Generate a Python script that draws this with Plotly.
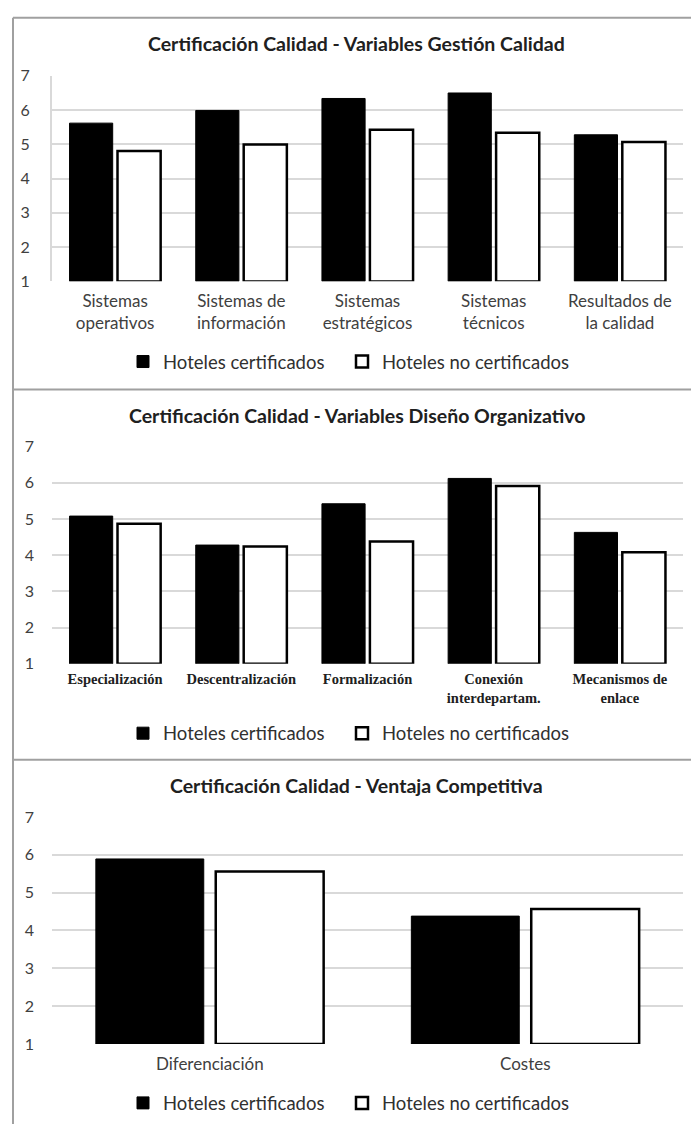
import plotly.graph_objects as go

# ---- data ----
series_names = ["Hoteles certificados", "Hoteles no certificados"]

cats1 = ["Sistemas<br>operativos", "Sistemas de<br>información", "Sistemas<br>estratégicos",
         "Sistemas<br>técnicos", "Resultados de<br>la calidad"]
cert1 = [5.62, 5.99, 6.34, 6.50, 5.28]
nocert1 = [4.81, 5.00, 5.43, 5.34, 5.07]

cats2 = ["Especialización", "Descentralización", "Formalización",
         "Conexión<br>interdepartam.", "Mecanismos de<br>enlace"]
cert2 = [5.08, 4.28, 5.42, 6.12, 4.63]
nocert2 = [4.87, 4.24, 4.38, 5.91, 4.08]

cats3 = ["Diferenciación", "Costes"]
cert3 = [5.89, 4.38]
nocert3 = [5.56, 4.57]

titles = ["Certificación Calidad - Variables Gestión Calidad",
          "Certificación Calidad - Variables Diseño Organizativo",
          "Certificación Calidad - Ventaja Competitiva"]
yticks = [1, 2, 3, 4, 5, 6, 7]
BASE = 1

W, H = 691, 1133
def py(p):
    return 1 - p / H

fig = go.Figure()

panels = [
    (cats1, cert1, nocert1, "", (67, 276), 358, 34),
    (cats2, cert2, nocert2, "2", (444, 665), 736, 412),
    (cats3, cert3, nocert3, "3", (820.7, 1051.7), 1112, 789),
]

leg_x = [123, 342]  # left edges of the two legend entries (px)

for i, (cats, c, n, ax, (top, bot), legy, titley) in enumerate(panels):
    lg_a = "legend" if i == 0 else "legend%d" % (2 * i + 1)
    lg_b = "legend%d" % (2 * i + 2)
    fig.add_trace(go.Bar(
        x=cats, y=[v - BASE for v in c], base=BASE, name=series_names[0],
        marker=dict(color="black", line=dict(color="black", width=1)),
        xaxis="x" + ax, yaxis="y" + ax, legend=lg_a, showlegend=True,
    ))
    fig.add_trace(go.Bar(
        x=cats, y=[v - BASE for v in n], base=BASE, name=series_names[1],
        marker=dict(color="white", line=dict(color="black", width=2.5)),
        xaxis="x" + ax, yaxis="y" + ax, legend=lg_b, showlegend=True,
    ))
    tickfont = dict(family="Lato", size=17, color="#404040")
    if i == 1:
        tickfont = dict(family="Liberation Serif", size=14.5, color="#202020", weight="bold")
    fig.layout["xaxis" + ax] = dict(
        domain=[52 / W, 683 / W], anchor="y" + ax, showgrid=False, ticks="",
        tickfont=tickfont, ticklabelstandoff=8 if i != 1 else 5, showline=False,
        zeroline=False,
    )
    fig.layout["yaxis" + ax] = dict(
        domain=[py(bot), py(top)], anchor="x" + ax, range=[1, 7], tickvals=yticks,
        showgrid=True, gridcolor="#d9d9d9", gridwidth=2, zeroline=False,
        showline=(i == 0), linecolor="#d9d9d9", linewidth=2,
        tickfont=dict(family="Lato", size=16, color="#404040"),
        ticklabelstandoff=17,
    )
    for lg, lx in ((lg_a, leg_x[0]), (lg_b, leg_x[1])):
        fig.layout[lg] = dict(
            orientation="h", x=lx / W, xanchor="left", y=py(legy), yanchor="middle",
            font=dict(family="Lato", size=18.5, color="#303030"),
            bgcolor="rgba(0,0,0,0)", itemwidth=30, visible=True,
        )
    fig.add_annotation(
        text="<b>" + titles[i] + "</b>", x=357 / W, y=py(titley), xref="paper", yref="paper",
        xanchor="center", yanchor="middle", showarrow=False,
        font=dict(family="Lato", size=19.5, color="#202020"),
    )

# panel borders
border = dict(color="#a0a0a0", width=2)
fig.add_shape(type="line", xref="paper", yref="paper", x0=13 / W, x1=1, y0=py(8), y1=py(8), line=border)
fig.add_shape(type="line", xref="paper", yref="paper", x0=13 / W, x1=13 / W, y0=py(8), y1=0, line=border)
fig.add_shape(type="line", xref="paper", yref="paper", x0=13 / W, x1=1, y0=py(386), y1=py(386), line=border)
fig.add_shape(type="line", xref="paper", yref="paper", x0=13 / W, x1=1, y0=py(762.5), y1=py(762.5), line=border)

fig.update_layout(
    width=W, height=H, margin=dict(l=0, r=0, t=0, b=0),
    paper_bgcolor="white", plot_bgcolor="white", showlegend=True,
    barmode="group", bargap=0.24, bargroupgap=0.1,
    font=dict(family="Lato"),
)

fig.write_html("out.html")
